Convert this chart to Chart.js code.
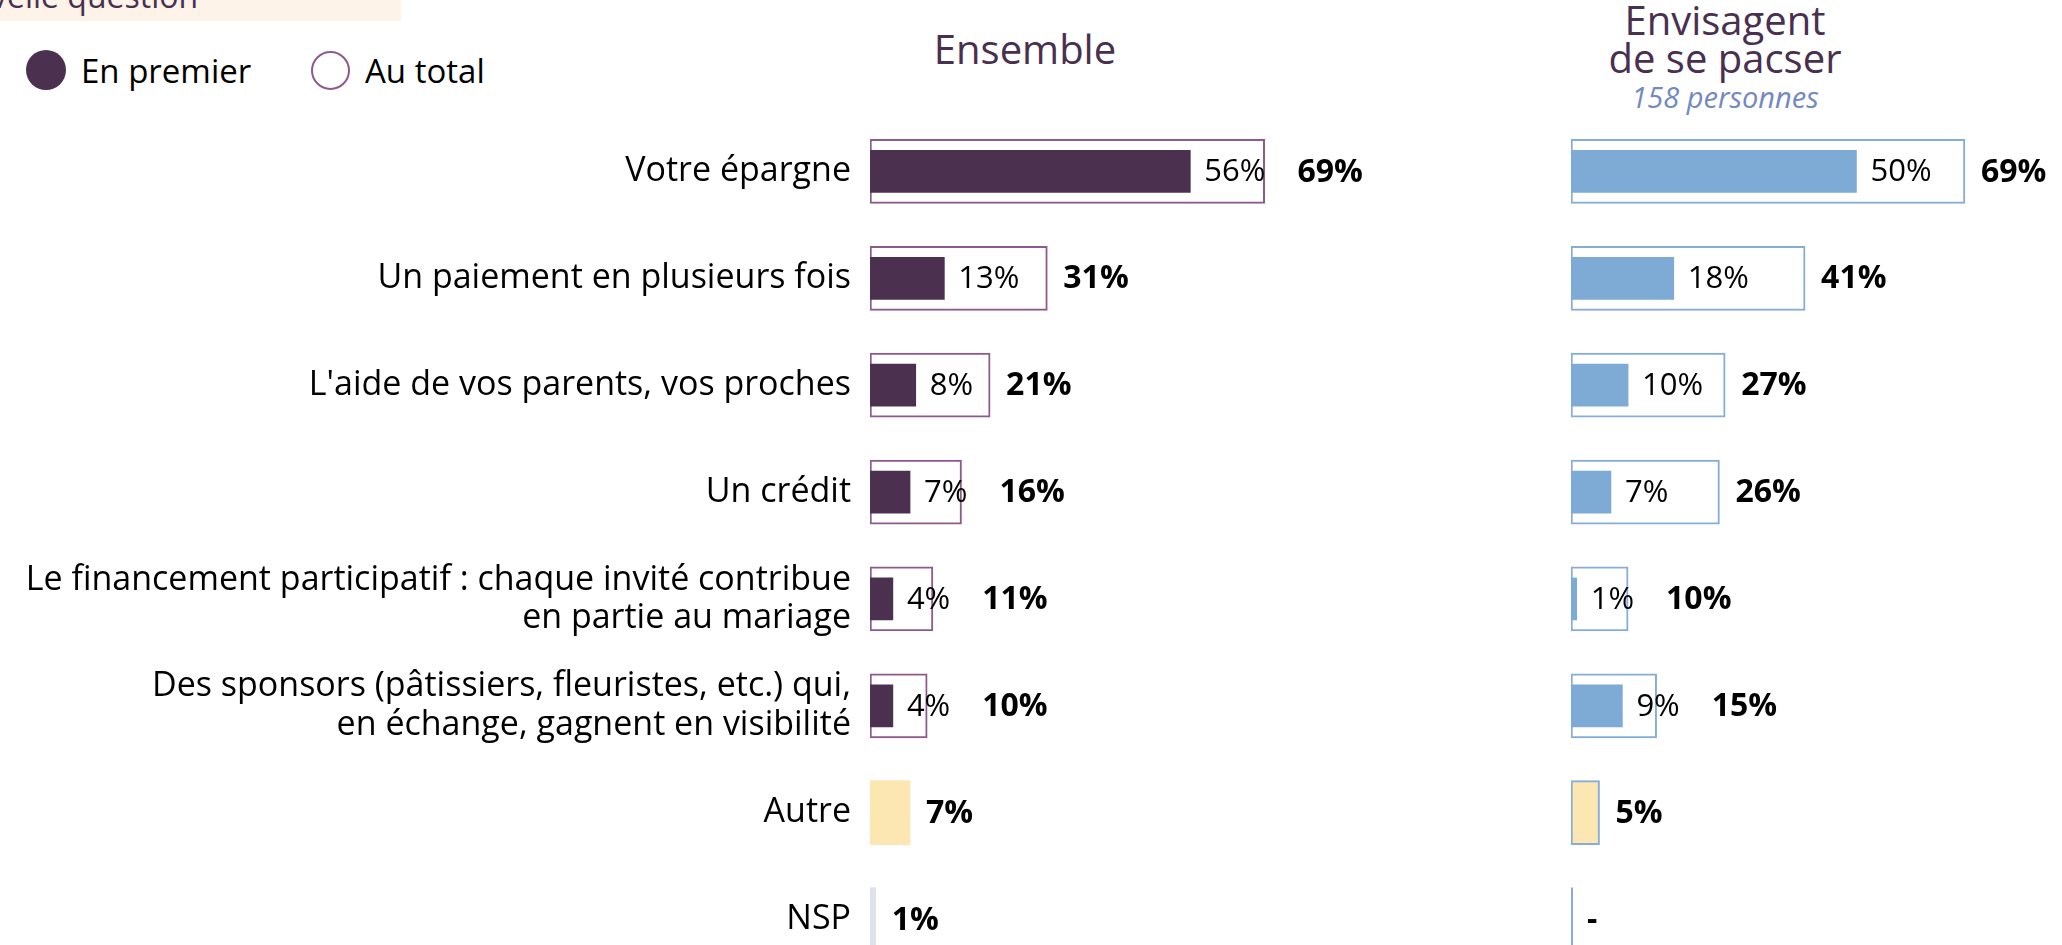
<!DOCTYPE html>
<html lang="fr">
<head>
<meta charset="utf-8">
<title>Financement du mariage</title>
<script src="https://cdn.jsdelivr.net/npm/chart.js@4.4.1/dist/chart.umd.min.js"></script>
<style>
html, body { margin: 0; padding: 0; width: 2062px; height: 945px; overflow: hidden; background: #fff; font-family: 'Open Sans', sans-serif; }
.note { position: absolute; left: 0; top: 0; width: 401px; height: 21px; background: #fef3e9; overflow: hidden; }
.note span { position: absolute; left: -72px; top: -19px; font-size: 32px; line-height: 30px; color: #4a3050; white-space: nowrap; }
.leg { position: absolute; top: 50px; height: 40px; display: flex; align-items: center; font-size: 33px; color: #000; }
.dot { width: 40px; height: 40px; border-radius: 50%; box-sizing: border-box; margin-right: 15px; }
.title { position: absolute; text-align: center; color: #4a3050; font-size: 40px; line-height: 38px; }
.sub { position: absolute; text-align: center; color: #7489c0; font-size: 29px; font-style: italic; line-height: 29px; }
.box { position: absolute; top: 0; height: 1012px; }
</style>
</head>
<body>
<div class="note"><span>Nouvelle question</span></div>
<div class="leg" style="left:26px"><div class="dot" style="background:#4b3050"></div>En premier</div>
<div class="leg" style="left:311px"><div class="dot" style="border:2px solid #8c5a8c;width:39px;height:39px"></div>Au total</div>
<div class="title" style="left:825px;width:400px;top:30px">Ensemble</div>
<div class="title" style="left:1525px;width:400px;top:1px">Envisagent<br>de se pacser</div>
<div class="sub" style="left:1525px;width:400px;top:82px">158 personnes</div>

<div class="box" style="left:0;width:1442px"><canvas id="chartEnsemble"></canvas></div>
<div class="box" style="left:1500px;width:562px"><canvas id="chartPacser"></canvas></div>

<script>
// catégories (axe vertical)
const categories = [
    'Votre épargne',
    'Un paiement en plusieurs fois',
    "L'aide de vos parents, vos proches",
    'Un crédit',
    ['Le financement participatif : chaque invité contribue', 'en partie au mariage'],
    ['Des sponsors (pâtissiers, fleuristes, etc.) qui,', 'en échange, gagnent en visibilité'],
    'Autre',
    'NSP'
];

// Ensemble
const ensemblePremier = [56, 13, 8, 7, 4, 4, null, null];
const ensembleTotal = [69, 31, 21, 16, 11, 10, 7, 1];

// Envisagent de se pacser (158 personnes)
const pacserPremier = [50, 18, 10, 7, 1, 9, null, null];
const pacserTotal = [69, 41, 27, 26, 10, 15, 5, 0];

const purple = '#4b3050';
const purpleLine = '#8c5a8c';
const blue = '#7eaad6';
const blueLine = '#86add9';
const yellow = '#fce7b3';
const lavender = '#dfe1ee';

Chart.defaults.font.family = "'Open Sans', sans-serif";
Chart.defaults.color = '#000';

// étiquettes des barres : "x%" après la barre pleine, "x%" en gras après le cadre
const barLabels = {
    id: 'barLabels',
    afterDatasetsDraw(chart) {
        const ctx = chart.ctx;
        const first = chart.getDatasetMeta(0).data;
        const total = chart.getDatasetMeta(1).data;
        const firstVals = chart.data.datasets[0].data;
        const totalVals = chart.data.datasets[1].data;
        const lineColor = chart.data.datasets[1].borderColor[0];
        ctx.save();
        ctx.textBaseline = 'middle';
        ctx.fillStyle = '#000';
        total.forEach((bar, i) => {
            let end = bar.x;
            if (firstVals[i] != null) {
                ctx.font = "400 31px 'Open Sans'";
                const t = firstVals[i] + '%';
                const px = first[i].x + 14;
                ctx.fillText(t, px, bar.y + 1);
                end = Math.max(end, px + ctx.measureText(t).width + 16);
            }
            ctx.font = "700 32px 'Open Sans'";
            if (totalVals[i]) {
                ctx.fillText(totalVals[i] + '%', end + 16, bar.y + 1);
            } else {
                // pas de réponse : trait à zéro et tiret
                ctx.fillText('-', end + 16, bar.y + 1);
                ctx.strokeStyle = lineColor;
                ctx.lineWidth = 2;
                ctx.beginPath();
                ctx.moveTo(bar.base + 1, bar.y - bar.height / 2);
                ctx.lineTo(bar.base + 1, bar.y + bar.height / 2);
                ctx.stroke();
            }
        });
        ctx.restore();
    }
};

function makeChart(id, premier, totalVals, opts) {
    return new Chart(document.getElementById(id), {
        type: 'bar',
        data: {
            labels: categories,
            datasets: [{
                label: 'En premier',
                data: premier,
                backgroundColor: opts.fill,
                borderWidth: 0,
                barThickness: 42,
                grouped: false
            }, {
                label: 'Au total',
                data: totalVals,
                backgroundColor: opts.totalFill,
                borderColor: opts.totalLine,
                borderWidth: opts.totalWidth,
                borderSkipped: false,
                barThickness: 64,
                grouped: false
            }]
        },
        options: {
            indexAxis: 'y',
            responsive: true,
            maintainAspectRatio: false,
            animation: false,
            devicePixelRatio: 1,
            layout: { padding: { top: 118, bottom: 39, left: opts.padLeft, right: 0 } },
            plugins: { legend: { display: false }, tooltip: { enabled: false } },
            scales: {
                x: { display: false, min: 0, max: opts.max },
                y: {
                    display: opts.showLabels,
                    grid: { display: false, drawTicks: false },
                    border: { display: false },
                    ticks: { padding: 19, color: '#000', font: { size: 34, lineHeight: 1.12 } },
                    afterFit(scale) { if (opts.showLabels) scale.width = 870; }
                }
            }
        },
        plugins: [barLabels]
    });
}

makeChart('chartEnsemble', ensemblePremier, ensembleTotal, {
    fill: purple,
    totalFill: ensembleTotal.map((v, i) => i < 6 ? '#fff' : (i == 6 ? yellow : lavender)),
    totalLine: ensembleTotal.map((v, i) => i < 6 ? purpleLine : (i == 6 ? yellow : lavender)),
    totalWidth: ensembleTotal.map((v, i) => i < 6 ? 2 : 0),
    max: 100,
    padLeft: 0,
    showLabels: true
});

makeChart('chartPacser', pacserPremier, pacserTotal, {
    fill: blue,
    totalFill: pacserTotal.map((v, i) => i == 6 ? yellow : '#fff'),
    totalLine: pacserTotal.map(() => blueLine),
    totalWidth: 2,
    max: 86,
    padLeft: 71,
    showLabels: false
});
</script>
</body>
</html>
